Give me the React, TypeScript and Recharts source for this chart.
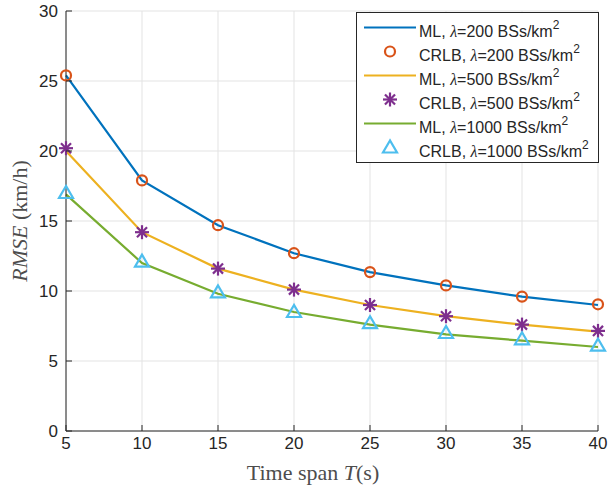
import React from "react";
import { LineChart, Line, XAxis, YAxis, CartesianGrid } from "recharts";

const spans = [5, 10, 15, 20, 25, 30, 35, 40];
const yTicks = [0, 5, 10, 15, 20, 25, 30];

const ml200 = [25.4, 17.9, 14.7, 12.7, 11.35, 10.4, 9.6, 9.0];
const crlb200 = [25.4, 17.9, 14.7, 12.7, 11.35, 10.4, 9.6, 9.05];
const ml500 = [20.0, 14.2, 11.6, 10.1, 9.0, 8.2, 7.6, 7.1];
const crlb500 = [20.2, 14.2, 11.6, 10.1, 9.0, 8.2, 7.6, 7.15];
const ml1000 = [16.9, 12.0, 9.8, 8.5, 7.6, 6.9, 6.45, 6.0];
const crlb1000 = [17.0, 12.1, 9.9, 8.5, 7.7, 7.0, 6.55, 6.1];

const rows = spans.map((t, i) => ({
  t,
  ml200: ml200[i],
  crlb200: crlb200[i],
  ml500: ml500[i],
  crlb500: crlb500[i],
  ml1000: ml1000[i],
  crlb1000: crlb1000[i],
}));

const C = {
  blue: "#0072BD",
  orange: "#D95319",
  yellow: "#EDB120",
  purple: "#7E2F8E",
  green: "#77AC30",
  cyan: "#4DBEEE",
  axis: "#262626",
  grid: "#e3e3e3",
};
const sans = "'Liberation Sans', Arial, Helvetica, sans-serif";
const serif = "'Liberation Serif', 'Times New Roman', serif";

const Circle = ({ cx, cy }: any) => (
  <circle cx={cx} cy={cy} r={5} fill="none" stroke={C.orange} strokeWidth={2.2} />
);
const Star = ({ cx, cy }: any) => {
  const r = 7;
  const d = r * 0.72;
  return (
    <g stroke={C.purple} strokeWidth={2.2}>
      <line x1={cx - r} y1={cy} x2={cx + r} y2={cy} />
      <line x1={cx} y1={cy - r} x2={cx} y2={cy + r} />
      <line x1={cx - d} y1={cy - d} x2={cx + d} y2={cy + d} />
      <line x1={cx - d} y1={cy + d} x2={cx + d} y2={cy - d} />
    </g>
  );
};
const Tri = ({ cx, cy }: any) => (
  <polygon
    points={`${cx},${cy - 7} ${cx - 7},${cy + 5} ${cx + 7},${cy + 5}`}
    fill="none"
    stroke={C.cyan}
    strokeWidth={2.2}
  />
);

const dotFn = (Shape: any) => (p: any) =>
  p.cx == null ? <g key={p.index} /> : <Shape key={p.index} cx={p.cx} cy={p.cy} />;

const BottomTick = (p: any) => (
  <g>
    <line x1={p.x} y1={p.y} x2={p.x} y2={p.y - 6} stroke={C.axis} />
    <text x={p.x} y={p.y + 18} textAnchor="middle" fontSize={17} fontFamily={sans} fill={C.axis}>
      {p.payload.value}
    </text>
  </g>
);
const TopTick = (p: any) => <line x1={p.x} y1={p.y} x2={p.x} y2={p.y + 6} stroke={C.axis} />;
const LeftTick = (p: any) => (
  <g>
    <line x1={p.x} y1={p.y} x2={p.x + 6} y2={p.y} stroke={C.axis} />
    <text x={p.x - 8} y={p.y + 6} textAnchor="end" fontSize={17} fontFamily={sans} fill={C.axis}>
      {p.payload.value}
    </text>
  </g>
);
const RightTick = (p: any) => <line x1={p.x} y1={p.y} x2={p.x - 6} y2={p.y} stroke={C.axis} />;

const legendItems = [
  { kind: "line", color: C.blue, name: "ML", lam: "200" },
  { kind: "circle", color: C.orange, name: "CRLB", lam: "200" },
  { kind: "line", color: C.yellow, name: "ML", lam: "500" },
  { kind: "star", color: C.purple, name: "CRLB", lam: "500" },
  { kind: "line", color: C.green, name: "ML", lam: "1000" },
  { kind: "tri", color: C.cyan, name: "CRLB", lam: "1000" },
];

function LegendBox() {
  const left = 356;
  const top = 12;
  return (
    <svg width={610} height={489} style={{ position: "absolute", left: 0, top: 0, pointerEvents: "none" }}>
      <rect x={left + 0.5} y={top + 0.5} width={242} height={150} fill="#fff" stroke={C.axis} strokeWidth={1} />
      {legendItems.map((it, i) => {
        const cy = 27.5 + i * 24;
        const base = 37 + i * 24;
        return (
          <g key={i}>
            {it.kind === "line" && <line x1={364} x2={416} y1={cy} y2={cy} stroke={it.color} strokeWidth={2} />}
            {it.kind === "circle" && <Circle cx={390} cy={cy} />}
            {it.kind === "star" && <Star cx={390} cy={cy} />}
            {it.kind === "tri" && <Tri cx={390} cy={cy} />}
            <text x={419} y={base} fontSize={16} fontFamily={sans} fill={C.axis}>
              {it.name + ", "}
              <tspan fontFamily={serif} fontStyle="italic">λ</tspan>
              {"=" + it.lam + " BSs/km"}
              <tspan dy={-8} fontSize={12}>2</tspan>
            </text>
          </g>
        );
      })}
    </svg>
  );
}

export default function App() {
  return (
    <div style={{ position: "absolute", left: 0, top: 0, width: 610, height: 489, background: "#fff" }}>
      <LineChart width={610} height={489} data={rows} margin={{ top: 11, right: 12, bottom: 0, left: 0 }}>
        <CartesianGrid stroke={C.grid} strokeWidth={1} />
        <XAxis
          dataKey="t"
          type="number"
          domain={[5, 40]}
          ticks={spans}
          interval={0}
          height={58}
          tickSize={0}
          tickMargin={0}
          tickLine={false}
          axisLine={{ stroke: C.axis }}
          tick={BottomTick}
          label={{
            content: () => (
              <text x={313} y={480} textAnchor="middle" fontSize={22} fontFamily={serif} fill="#4d4d4d">
                Time span <tspan fontStyle="italic">T</tspan>(s)
              </text>
            ),
          }}
        />
        <XAxis
          xAxisId="top"
          orientation="top"
          dataKey="t"
          type="number"
          domain={[5, 40]}
          ticks={spans}
          interval={0}
          height={0}
          tickSize={0}
          tickMargin={0}
          tickLine={false}
          axisLine={{ stroke: C.axis }}
          tick={TopTick}
        />
        <YAxis
          type="number"
          domain={[0, 30]}
          ticks={yTicks}
          interval={0}
          width={66}
          tickSize={0}
          tickMargin={0}
          tickLine={false}
          axisLine={{ stroke: C.axis }}
          tick={LeftTick}
          label={{
            content: () => (
              <text
                x={27}
                y={221}
                transform="rotate(-90 27 221)"
                textAnchor="middle"
                fontSize={22}
                fontFamily={serif}
                fill="#4d4d4d"
              >
                <tspan fontStyle="italic">RMSE</tspan> (km/h)
              </text>
            ),
          }}
        />
        <YAxis
          yAxisId="right"
          orientation="right"
          type="number"
          domain={[0, 30]}
          ticks={yTicks}
          interval={0}
          width={0}
          tickSize={0}
          tickMargin={0}
          tickLine={false}
          axisLine={{ stroke: C.axis }}
          tick={RightTick}
        />
        <Line type="linear" dataKey="ml200" stroke={C.blue} strokeWidth={2.2} dot={false} activeDot={false} isAnimationActive={false} />
        <Line type="linear" dataKey="ml500" stroke={C.yellow} strokeWidth={2.2} dot={false} activeDot={false} isAnimationActive={false} />
        <Line type="linear" dataKey="ml1000" stroke={C.green} strokeWidth={2.2} dot={false} activeDot={false} isAnimationActive={false} />
        <Line dataKey="crlb200" stroke="none" dot={dotFn(Circle)} activeDot={false} isAnimationActive={false} />
        <Line dataKey="crlb500" stroke="none" dot={dotFn(Star)} activeDot={false} isAnimationActive={false} />
        <Line dataKey="crlb1000" stroke="none" dot={dotFn(Tri)} activeDot={false} isAnimationActive={false} />
      </LineChart>
      <LegendBox />
    </div>
  );
}
